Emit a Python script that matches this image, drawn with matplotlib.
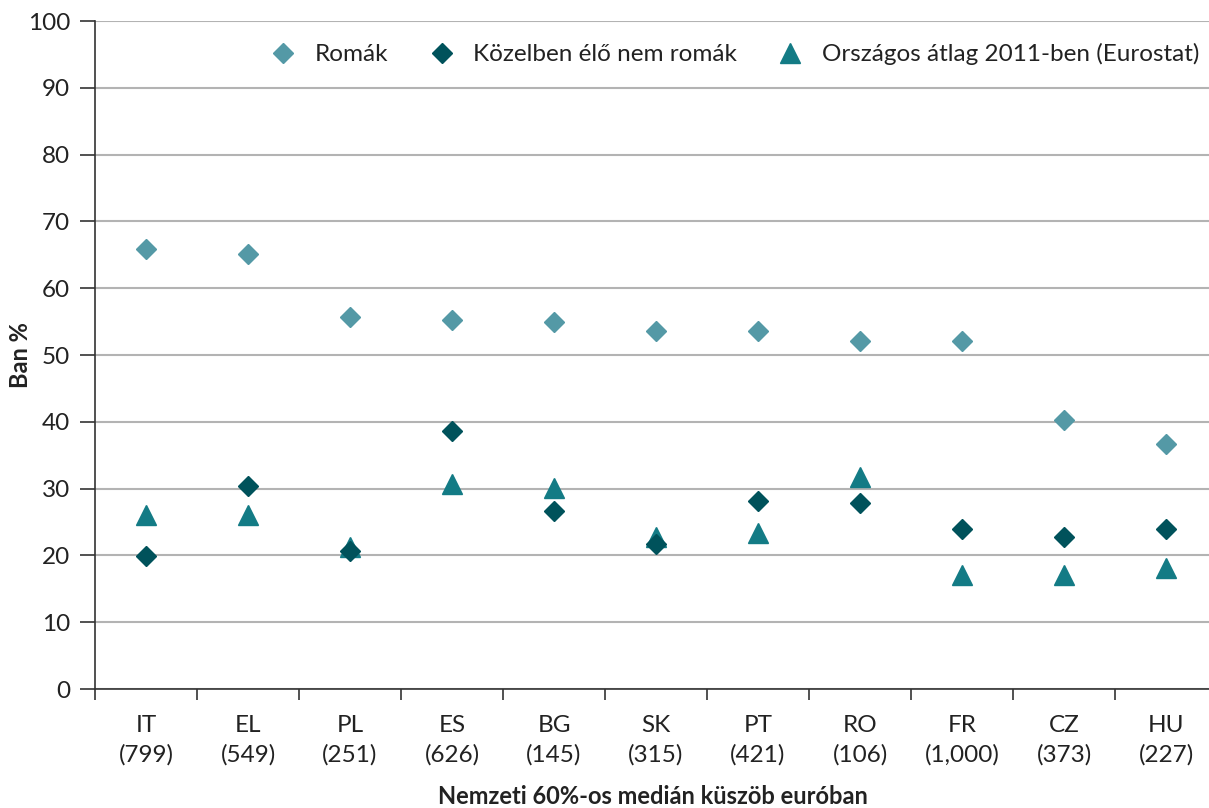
import matplotlib
matplotlib.use("Agg")
import matplotlib.pyplot as plt
from matplotlib.ticker import MultipleLocator

plt.rcParams['font.family'] = ['Lato', 'DejaVu Sans']

countries = ["IT", "EL", "PL", "ES", "BG", "SK", "PT", "RO", "FR", "CZ", "HU"]
thresholds = ["799", "549", "251", "626", "145", "315", "421", "106", "1,000", "373", "227"]

roma = [65.9, 65.1, 55.7, 55.3, 54.9, 53.6, 53.6, 52.1, 52.1, 40.3, 36.7]
non_roma = [19.9, 30.4, 20.7, 38.6, 26.7, 21.7, 28.2, 27.8, 24.0, 22.8, 24.0]
eurostat = [26.0, 26.0, 21.2, 30.7, 30.1, 22.7, 23.3, 31.8, 17.1, 17.1, 18.1]

series_labels = ["Romák", "Közelben élő nem romák", "Országos átlag 2011-ben (Eurostat)"]
colors = ["#5499a6", "#00525b", "#137b85"]

fig = plt.figure(figsize=(12.09, 8.08), dpi=100)
ax = fig.add_axes([95/1209, 1-689/808, (1217-95)/1209, (689-21)/808])

x = list(range(len(countries)))
ax.plot(x, roma, linestyle='none', marker='D', markersize=10.5, color=colors[0], label=series_labels[0], zorder=3)
ax.plot(x, non_roma, linestyle='none', marker='D', markersize=10.5, color=colors[1], label=series_labels[1], zorder=4)
ax.plot(x, eurostat, linestyle='none', marker='^', markersize=14, color=colors[2], label=series_labels[2], zorder=3)

ax.set_ylim(0, 100)
ax.set_xlim(-0.5, len(countries) - 0.5)
ax.yaxis.set_major_locator(MultipleLocator(10))
ax.grid(axis='y', color='#b3b3b3', linewidth=1.5, zorder=0)
ax.set_axisbelow(True)

ax.set_xticks(x)
ax.set_xticklabels([f"{c}\n({t})" for c, t in zip(countries, thresholds)], linespacing=1.45)
ax.set_xticks([i - 0.5 for i in range(len(countries) + 1)], minor=True)
ax.tick_params(axis='x', which='major', length=0, pad=19, labelsize=17.5, labelcolor='#222222')
ax.tick_params(axis='x', which='minor', length=8, width=1.2, color='#333333')
ax.tick_params(axis='y', length=11, width=1.2, color='#333333', pad=7, labelsize=17.5, labelcolor='#222222')

for s in ['top', 'right']:
    ax.spines[s].set_visible(False)
for s in ['left', 'bottom']:
    ax.spines[s].set_color('#333333')
    ax.spines[s].set_linewidth(1.2)

ax.set_ylabel("Ban %", fontsize=17, fontweight='bold', color='#222222')
ax.yaxis.set_label_coords((20 - 95) / 1122, 0.5)
ax.yaxis.label.set_va('center')
ax.set_xlabel("Nemzeti 60%-os medián küszöb euróban", fontsize=17, fontweight='bold', color='#222222')
ax.xaxis.set_label_coords(0.497, (689 - 785) / 668)

leg = ax.legend(loc='center right', bbox_to_anchor=(0.993, 0.950), ncol=3, frameon=False,
                fontsize=17.5, handletextpad=0.7, columnspacing=1.6, handlelength=1.2,
                labelcolor='#222222', borderaxespad=0)

fig.savefig("out.png", dpi=100)
